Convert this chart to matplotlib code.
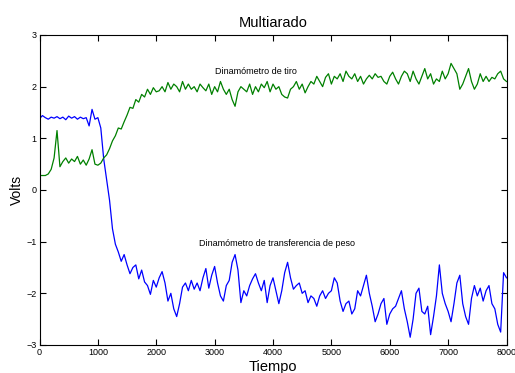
import matplotlib
matplotlib.use("Agg")
from matplotlib import pyplot as plt

matplotlib.rc("font", family=["Liberation Sans", "DejaVu Sans"])

# tiempo, paso de 50
tiempo = list(range(0, 8001, 50))

# Dinamómetro de transferencia de peso (azul)
transferencia = [
    1.38, 1.44, 1.40, 1.37, 1.41, 1.39, 1.42, 1.38, 1.41, 1.36,
    1.43, 1.39, 1.42, 1.37, 1.41, 1.38, 1.40, 1.24, 1.56, 1.37,
    1.40, 1.20, 0.60, 0.20, -0.20, -0.75, -1.05, -1.20, -1.38, -1.25,
    -1.45, -1.62, -1.50, -1.45, -1.72, -1.55, -1.78, -1.85, -2.02, -1.75,
    -1.88, -1.70, -1.58, -1.80, -2.15, -2.00, -2.30, -2.45, -2.20, -1.88,
    -1.80, -1.95, -1.75, -1.92, -1.80, -1.95, -1.70, -1.52, -1.90, -1.65,
    -1.48, -1.80, -2.05, -2.15, -1.85, -1.75, -1.40, -1.25, -1.55, -2.18,
    -1.95, -2.05, -1.85, -1.72, -1.62, -1.80, -1.95, -1.75, -2.18, -1.85,
    -1.70, -1.95, -2.20, -1.95, -1.60, -1.40, -1.70, -1.92, -1.85, -1.80,
    -2.00, -1.95, -2.18, -2.05, -2.10, -2.25, -2.05, -1.95, -2.10, -2.00,
    -1.95, -1.70, -1.80, -2.15, -2.35, -2.20, -2.15, -2.40, -2.30, -1.95,
    -2.05, -1.85, -1.65, -2.00, -2.25, -2.55, -2.40, -2.20, -2.10, -2.60,
    -2.40, -2.30, -2.25, -2.10, -1.95, -2.30, -2.55, -2.85, -2.50, -2.00,
    -1.90, -2.35, -2.40, -2.25, -2.80, -2.45, -2.05, -1.45, -2.00, -2.20,
    -2.35, -2.55, -2.20, -1.80, -1.65, -2.20, -2.45, -2.60, -2.10, -1.85,
    -2.05, -1.90, -2.15, -1.95, -1.85, -2.20, -2.30, -2.60, -2.75, -1.60,
    -1.70,
]

# Dinamómetro de tiro (verde)
tiro = [
    0.28, 0.28, 0.28, 0.31, 0.40, 0.62, 1.15, 0.45, 0.55, 0.62,
    0.52, 0.60, 0.55, 0.65, 0.50, 0.58, 0.48, 0.60, 0.78, 0.50,
    0.48, 0.52, 0.62, 0.68, 0.80, 0.95, 1.05, 1.20, 1.18, 1.32,
    1.45, 1.60, 1.58, 1.75, 1.70, 1.85, 1.80, 1.95, 1.85, 1.98,
    1.90, 1.92, 2.00, 1.90, 2.08, 1.95, 2.05, 2.00, 1.90, 2.10,
    1.95, 2.05, 1.95, 2.00, 1.90, 2.05, 1.98, 1.92, 2.05, 1.85,
    2.00, 1.90, 2.10, 1.95, 1.85, 1.95, 1.75, 1.62, 1.90, 2.00,
    1.95, 1.90, 2.05, 1.85, 2.00, 1.90, 2.05, 1.98, 2.10, 1.90,
    2.05, 1.95, 2.00, 1.85, 1.80, 1.78, 1.95, 2.00, 2.10, 1.95,
    2.05, 1.88, 2.00, 2.10, 2.05, 2.20, 2.10, 2.00, 2.18, 2.25,
    2.05, 2.20, 2.15, 2.25, 2.10, 2.30, 2.20, 2.15, 2.25, 2.10,
    2.20, 2.05, 2.15, 2.22, 2.15, 2.25, 2.18, 2.20, 2.10, 2.05,
    2.20, 2.28, 2.15, 2.05, 2.20, 2.30, 2.25, 2.10, 2.30, 2.15,
    2.05, 2.20, 2.35, 2.15, 2.25, 2.05, 2.15, 2.10, 2.30, 2.15,
    2.25, 2.45, 2.35, 2.25, 1.95, 2.05, 2.20, 2.35, 2.10, 1.95,
    2.05, 2.25, 2.10, 2.20, 2.10, 2.18, 2.15, 2.25, 2.30, 2.15,
    2.10,
]

fig = plt.figure(figsize=(5.15, 3.73), dpi=100)
ax = fig.add_axes([0.0767, 0.0751, 0.9068, 0.8311])

ax.plot(tiempo, transferencia, color="#0000ff", linewidth=0.9)
ax.plot(tiempo, tiro, color="#008000", linewidth=0.9)

ax.text(3000, 2.29, "Dinamómetro de tiro", fontsize=6.5, va="center")
ax.text(2730, -1.04, "Dinamómetro de transferencia de peso", fontsize=6.5, va="center")

ax.set_xlim(0, 8000)
ax.set_ylim(-3, 3)
ax.set_xticks(range(0, 8001, 1000))
ax.set_yticks(range(-3, 4))
ax.tick_params(direction="in", top=True, right=True, labelsize=6.5, length=4, pad=2)

ax.set_title("Multiarado", fontsize=10.5)
ax.set_xlabel("Tiempo", fontsize=10.5, labelpad=2)
ax.set_ylabel("Volts", fontsize=10, labelpad=2)

fig.savefig("out.png", dpi=100)
